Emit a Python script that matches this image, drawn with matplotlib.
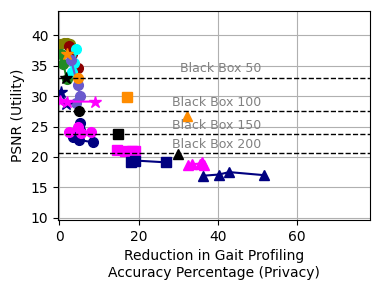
import matplotlib
matplotlib.use("Agg")
import matplotlib.pyplot as plt

# Black box reference PSNR levels
bb_labels = ["Black Box 50", "Black Box 100", "Black Box 150", "Black Box 200"]
bb_psnr = [33.0, 27.5, 23.7, 20.6]

# Series: (x values, y values, color, marker)
olive_o_x = [0.2, 1.2, 2.0, 2.6]
olive_o_y = [38.6, 38.8, 38.7, 38.5]
green_o_x = [0.3, 1.0, 1.9]
green_o_y = [37.0, 35.3, 32.8]
maroon_o_x = [2.4, 3.2, 4.6]
maroon_o_y = [38.2, 37.0, 34.6]
cyan_o_x = [4.3, 3.8, 3.2]
cyan_o_y = [37.8, 35.5, 34.0]
slate_o_x = [3.0, 4.6, 5.3, 4.3]
slate_o_y = [35.9, 31.8, 30.0, 28.8]
orange_o_x = [4.6]
orange_o_y = [32.9]
black_o_x = [5.0]
black_o_y = [27.5]
navy_o_x = [3.4, 5.3, 5.3, 4.9, 8.5]
navy_o_y = [23.3, 25.5, 24.4, 22.8, 22.4]
magenta_o_x = [2.4, 4.6, 5.6, 7.9]
magenta_o_y = [24.1, 24.9, 23.9, 24.1]

orange_s_x = [1.9]
orange_s_y = [37.0]
black_s_x = [1.8]
black_s_y = [33.0]
navy_s_x = [0.3, 1.8]
navy_s_y = [30.7, 28.7]
magenta_s_x = [0.1, 1.9, 9.0]
magenta_s_y = [29.2, 29.1, 29.1]

orange_q_x = [17.2]
orange_q_y = [29.8]
black_q_x = [14.9]
black_q_y = [23.7]
magenta_q_x = [14.6, 16.7, 18.4, 19.2]
magenta_q_y = [21.1, 21.0, 20.9, 20.9]
navy_q_x = [18.0, 19.2, 27.0]
navy_q_y = [19.1, 19.4, 19.1]

orange_t_x = [32.2]
orange_t_y = [26.8]
black_t_x = [30.0]
black_t_y = [20.5]
magenta_t_x = [32.5, 33.5, 35.5, 36.0, 36.6]
magenta_t_y = [18.7, 18.8, 18.9, 19.2, 18.7]
navy_t_x = [36.3, 40.3, 42.9, 51.6]
navy_t_y = [16.9, 17.1, 17.5, 17.0]

series = [
    (olive_o_x, olive_o_y, "olive", "o"),
    (green_o_x, green_o_y, "forestgreen", "o"),
    (maroon_o_x, maroon_o_y, "darkred", "o"),
    (cyan_o_x, cyan_o_y, "cyan", "o"),
    (slate_o_x, slate_o_y, "slateblue", "o"),
    (orange_o_x, orange_o_y, "darkorange", "o"),
    (black_o_x, black_o_y, "black", "o"),
    (navy_o_x, navy_o_y, "navy", "o"),
    (magenta_o_x, magenta_o_y, "magenta", "o"),
    (orange_s_x, orange_s_y, "darkorange", "*"),
    (black_s_x, black_s_y, "black", "*"),
    (navy_s_x, navy_s_y, "navy", "*"),
    (magenta_s_x, magenta_s_y, "magenta", "*"),
    (orange_q_x, orange_q_y, "darkorange", "s"),
    (black_q_x, black_q_y, "black", "s"),
    (magenta_q_x, magenta_q_y, "magenta", "s"),
    (navy_q_x, navy_q_y, "navy", "s"),
    (orange_t_x, orange_t_y, "darkorange", "^"),
    (black_t_x, black_t_y, "black", "^"),
    (magenta_t_x, magenta_t_y, "magenta", "^"),
    (navy_t_x, navy_t_y, "navy", "^"),
]

fig = plt.figure(figsize=(3.8, 2.9), dpi=100)
ax = fig.add_axes([0.153, 0.241, 0.821, 0.721])

for xs, ys, c, m in series:
    ms = 9 if m == "*" else 7
    ax.plot(xs, ys, color=c, marker=m, markersize=ms, linewidth=1.5)

for lab, y in zip(bb_labels, bb_psnr):
    ax.axhline(y, color="black", linestyle="--", linewidth=1)
    ax.text(51, y + 0.4, lab, color="gray", ha="right", va="bottom", fontsize=9)

ax.set_xlim(-0.3, 78.5)
ax.set_ylim(9.6, 44)
ax.set_xticks([0, 20, 40, 60])
ax.set_yticks([10, 15, 20, 25, 30, 35, 40])
ax.grid(True, color="#b0b0b0")
ax.set_axisbelow(True)
ax.set_xlabel("Reduction in Gait Profiling\nAccuracy Percentage (Privacy)")
ax.set_ylabel("PSNR (Utility)")

fig.savefig("out.png", dpi=100)
